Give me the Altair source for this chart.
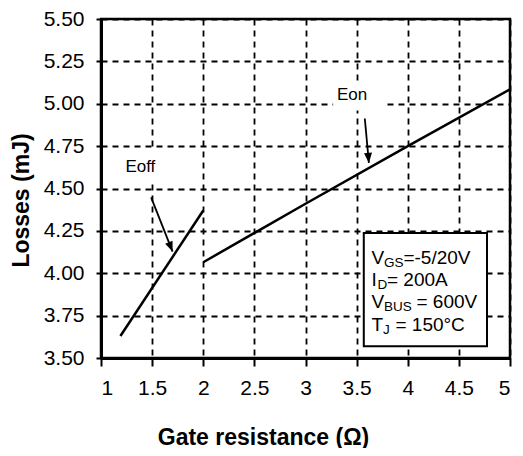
import altair as alt
import pandas as pd

FONT = "Liberation Sans"
X_TITLE = "Gate resistance (Ω)"
Y_TITLE = "Losses (mJ)"

# curves
eoff_rg = [1.19, 2.0]
eoff_mj = [3.63, 4.37]
eon_rg = [2.0, 3.0, 4.0, 5.0]
eon_mj = [4.065, 4.41, 4.75, 5.085]

x_ticks = [1, 1.5, 2, 2.5, 3, 3.5, 4, 4.5, 5]
y_ticks = [3.5, 3.75, 4.0, 4.25, 4.5, 4.75, 5.0, 5.25, 5.5]

# curve labels, the white patches behind them and their arrows
label_text = ["Eoff", "Eon"]
label_x = [1.385, 3.455]
label_y = [4.60, 5.025]
patch_x = [1.17, 3.27]
patch_x2 = [1.62, 3.77]
patch_y = [4.535, 4.96]
patch_y2 = [4.738, 5.128]
arrow_x = [1.49, 3.58]
arrow_y = [4.448, 4.913]
arrow_x2 = [1.70, 3.62]
arrow_y2 = [4.128, 4.651]
arrow_angle = [338, 355]

# test conditions box
box_x, box_x2 = [3.57], [4.775]
box_y, box_y2 = [3.57], [4.238]
cond_main = ["V", "I", "V", "T"]
cond_sub = ["GS", "D", "BUS", "J"]
cond_rest = ["=-5/20V", "= 200A", "= 600V", "= 150°C"]
cond_x = 3.645
cond_y = [4.052, 3.924, 3.797, 3.66]

xs = alt.Scale(domain=[1, 5], nice=False, zero=False)
ys = alt.Scale(domain=[3.5, 5.5], nice=False, zero=False)
x_axis = alt.Axis(values=x_ticks, format="~g")
y_axis = alt.Axis(values=y_ticks, format=".2f")


def X(field="x"):
    return alt.X(f"{field}:Q", scale=xs, axis=x_axis, title=X_TITLE)


def Y(field="y"):
    return alt.Y(f"{field}:Q", scale=ys, axis=y_axis, title=Y_TITLE)


curves = pd.DataFrame({
    "x": eoff_rg + eon_rg,
    "y": eoff_mj + eon_mj,
    "series": ["Eoff"] * len(eoff_rg) + ["Eon"] * len(eon_rg),
})

lines = alt.Chart(curves).mark_line(color="black", strokeWidth=2.5).encode(
    x=X(), y=Y(), detail="series:N"
)

patches = alt.Chart(pd.DataFrame({
    "x": patch_x, "x2": patch_x2, "y": patch_y, "y2": patch_y2
})).mark_rect(fill="white").encode(x=X(), x2="x2", y=Y(), y2="y2")

labels = alt.Chart(pd.DataFrame({
    "x": label_x, "y": label_y, "t": label_text
})).mark_text(font=FONT, fontSize=17, align="center", baseline="alphabetic",
              color="black").encode(x=X(), y=Y(), text="t:N")

arrows = pd.DataFrame({
    "x": arrow_x, "y": arrow_y, "x2": arrow_x2, "y2": arrow_y2,
    "angle": arrow_angle,
})
shafts = alt.Chart(arrows).mark_rule(color="black", strokeWidth=1.8).encode(
    x=X(), y=Y(), x2="x2", y2="y2"
)
heads = alt.Chart(arrows).mark_point(
    shape="M0,0L-0.4,-1L0.4,-1Z", filled=True, color="black", opacity=1,
    size=400
).encode(
    x=X("x2"), y=Y("y2"), angle=alt.Angle("angle:Q", scale=None)
)

box = alt.Chart(pd.DataFrame({
    "x": box_x, "x2": box_x2, "y": box_y, "y2": box_y2
})).mark_rect(fill="white", stroke="black", strokeWidth=2).encode(
    x=X(), x2="x2", y=Y(), y2="y2"
)

cond = pd.DataFrame({
    "x": [cond_x] * 4, "y": cond_y,
    "main": cond_main, "sub": cond_sub, "rest": cond_rest,
})
cond_layers = [
    alt.Chart(cond).mark_text(font=FONT, fontSize=19, align="left",
                              baseline="alphabetic", color="black"
                              ).encode(x=X(), y=Y(), text="main:N")
]
sub_dx = [12.5, 6, 12.5, 11.5]
rest_dx = [32, 15.5, 45, 24]
for i in range(4):
    row = cond.iloc[[i]]
    cond_layers.append(
        alt.Chart(row).mark_text(font=FONT, fontSize=13.5, align="left",
                                 baseline="alphabetic", color="black",
                                 dx=sub_dx[i], dy=3
                                 ).encode(x=X(), y=Y(), text="sub:N"))
    cond_layers.append(
        alt.Chart(row).mark_text(font=FONT, fontSize=19, align="left",
                                 baseline="alphabetic", color="black",
                                 dx=rest_dx[i]
                                 ).encode(x=X(), y=Y(), text="rest:N"))

chart = alt.layer(
    lines, patches, labels, shafts, heads, box, *cond_layers
).properties(
    width=409, height=339,
    autosize=alt.AutoSizeParams(type="none"),
    padding={"left": 93, "top": 11, "right": 5, "bottom": 90},
    background="white",
).configure_view(
    stroke="black", strokeWidth=2.5
).configure_axis(
    labelFont=FONT, titleFont=FONT, labelColor="black", titleColor="black",
    labelFontSize=21, titleFontWeight="bold",
    domainColor="black", domainWidth=3, tickColor="black", tickWidth=2,
    grid=True, gridColor="black", gridDash=[6, 5], gridWidth=1.8,
    gridOpacity=1,
).configure_axisX(
    tickSize=8, labelPadding=11, titleFontSize=23,
    titleX=162, titleY=86, titleBaseline="alphabetic", titleAlign="center",
    titleAnchor="start",
).configure_axisY(
    tickSize=5, labelPadding=12, titleFontSize=23,
    titleX=-73, titleY=181, titleBaseline="alphabetic", titleAlign="center",
    titleAngle=270, titleAnchor="start",
)

chart.save("out.html", embed_options={"renderer": "svg", "actions": False})
